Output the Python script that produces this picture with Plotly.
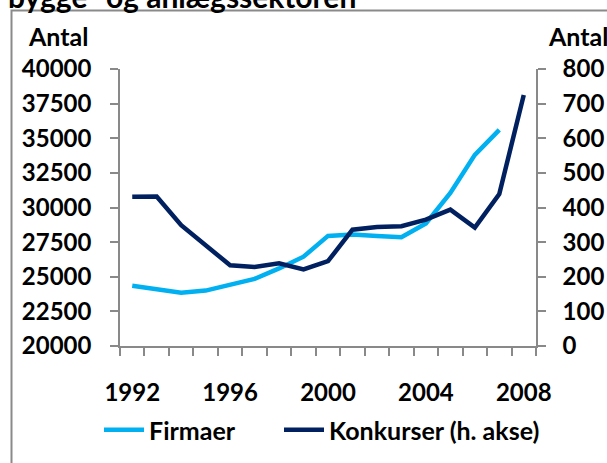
import plotly.graph_objects as go

years = list(range(1992, 2009))
firmaer_years = list(range(1992, 2008))
firmaer = [24350, 24100, 23850, 24000, 24400, 24850, 25600, 26450, 27950,
           28050, 27950, 27850, 28850, 31050, 33800, 35600]
konkurser = [431, 432, 349, 289, 233, 228, 239, 221, 245, 336, 344, 346,
             365, 394, 342, 439, 725]
x_ticks = [1992, 1996, 2000, 2004, 2008]
left_ticks = [20000, 22500, 25000, 27500, 30000, 32500, 35000, 37500, 40000]
right_ticks = [0, 100, 200, 300, 400, 500, 600, 700, 800]
title_text = "bygge- og anlægssektoren"

W, H = 607, 463
L, R, T, B = 120, 536, 69, 346
FONT = "Lato"
AXC = "#898989"


def px(x):
    return (x - L) / (R - L)


def py(y):
    return (B - y) / (B - T)


def bold(v):
    return "<b>" + str(v) + "</b>"


fig = go.Figure()
fig.add_trace(go.Scatter(x=firmaer_years, y=firmaer, name=bold("Firmaer"), mode="lines",
                         line=dict(color="#00B0F0", width=4.5), legend="legend"))
fig.add_trace(go.Scatter(x=years, y=konkurser, name=bold("Konkurser (h. akse)"), mode="lines",
                         line=dict(color="#002060", width=4.5), yaxis="y2",
                         legend="legend2"))

tf = dict(family=FONT, size=24, color="black", weight="bold")
lf = dict(family=FONT, size=25, color="black", weight="bold")
leg_common = dict(orientation="h", yanchor="middle", xanchor="left", font=lf,
                  bgcolor="rgba(0,0,0,0)", itemwidth=40)

fig.update_layout(
    width=W, height=H,
    margin=dict(l=L, r=W - R, t=T, b=H - B, pad=0, autoexpand=False),
    paper_bgcolor="white", plot_bgcolor="white",
    font=dict(family=FONT, size=24, color="black"),
    showlegend=True,
    legend=dict(x=px(99), y=py(430), **leg_common),
    legend2=dict(x=px(279), y=py(430), **leg_common),
    xaxis=dict(range=[1991.5, 2008.5], tickmode="array", tickvals=x_ticks,
               ticktext=[bold(v) for v in x_ticks], ticks="", showgrid=False,
               zeroline=False, showline=True, linecolor=AXC, linewidth=1.5,
               ticklabelstandoff=24, automargin=False, tickfont=tf,
               minor=dict(tickmode="array", tickvals=[1991.5 + i for i in range(18)],
                          ticks="outside", ticklen=8, tickcolor=AXC, tickwidth=1.5,
                          showgrid=False)),
    yaxis=dict(range=[20000, 40000], tickmode="array", tickvals=left_ticks,
               ticktext=[bold(v) for v in left_ticks],
               ticks="outside", ticklen=8, tickcolor=AXC, tickwidth=1.5,
               showgrid=False, zeroline=False, showline=True, linecolor=AXC,
               linewidth=1.5, ticklabelstandoff=14, automargin=False, tickfont=tf),
    yaxis2=dict(range=[0, 800], tickmode="array", tickvals=right_ticks,
                ticktext=[bold(v) for v in right_ticks],
                overlaying="y", side="right",
                ticks="outside", ticklen=8, tickcolor=AXC, tickwidth=1.5,
                showgrid=False, zeroline=False, showline=True, linecolor=AXC,
                linewidth=1.5, ticklabelstandoff=12, automargin=False, tickfont=tf),
)

fig.add_shape(type="rect", xref="paper", yref="paper",
              x0=px(11.5), x1=px(640), y0=py(500), y1=py(10.5),
              line=dict(color="#8a8a8a", width=2), fillcolor="rgba(0,0,0,0)", layer="below")

fig.add_annotation(text=bold("Antal"), xref="paper", yref="paper", x=px(26), y=py(36),
                   xanchor="left", yanchor="middle", showarrow=False,
                   font=dict(family=FONT, size=25, color="black"))
fig.add_annotation(text=bold("Antal"), xref="paper", yref="paper", x=px(546), y=py(36),
                   xanchor="left", yanchor="middle", showarrow=False,
                   font=dict(family=FONT, size=25, color="black"))
fig.add_annotation(text=bold(title_text), xref="paper", yref="paper",
                   x=px(6), y=py(16.5), xanchor="left", yanchor="bottom", showarrow=False,
                   font=dict(family=FONT, size=30, color="black"))

fig.write_html("out.html", config={"displayModeBar": False},
               post_script="document.body.style.margin='0';document.body.style.overflow='hidden';")
